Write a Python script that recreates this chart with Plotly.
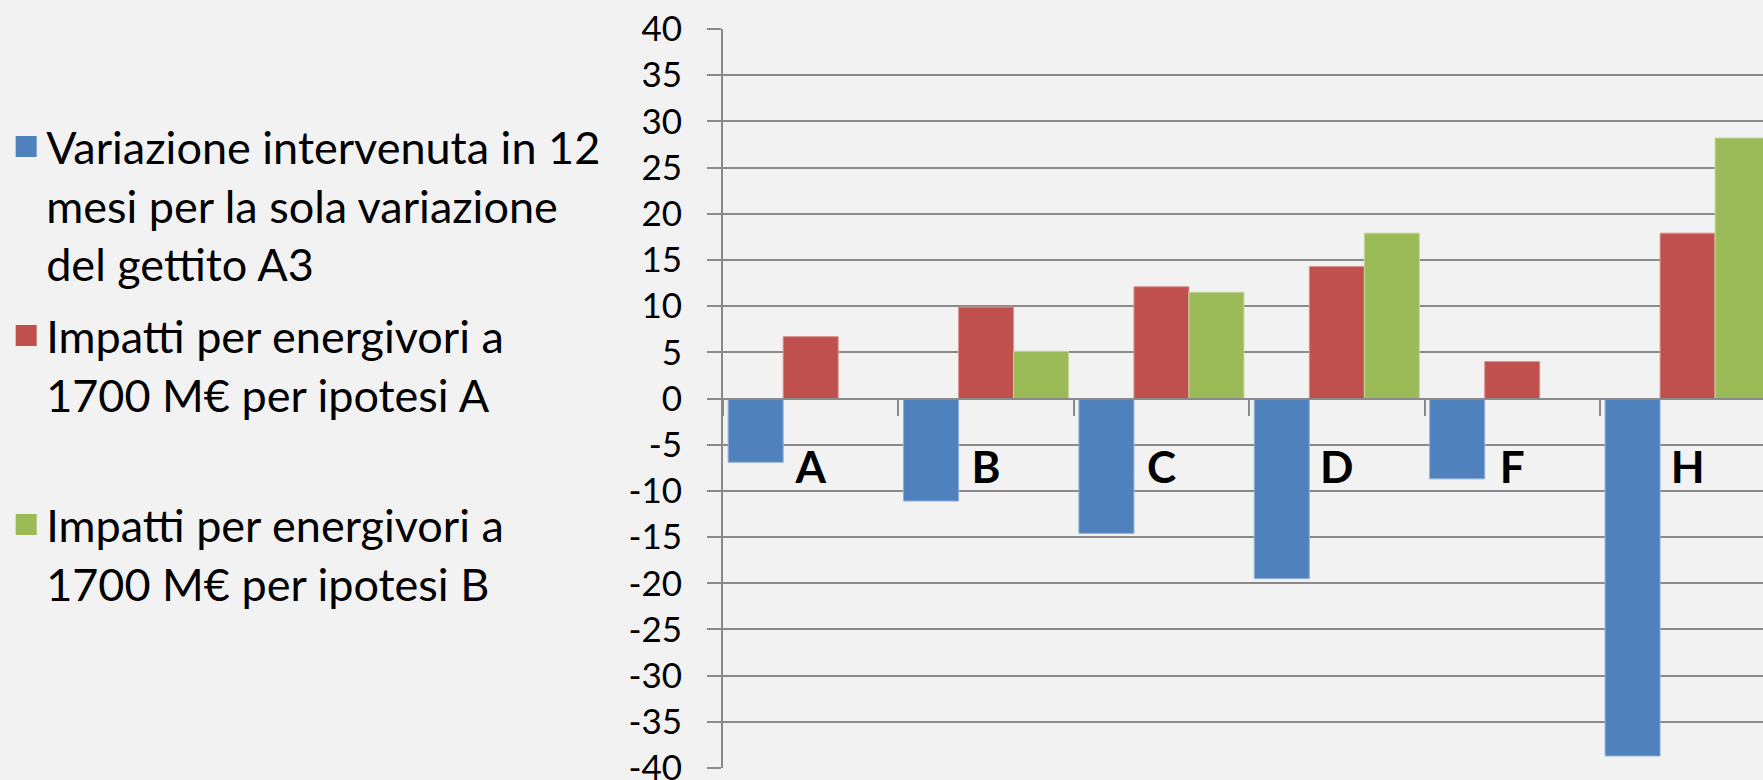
import plotly.graph_objects as go

categories = ["A", "B", "C", "D", "F", "H"]
variazione_a3 = [-6.9, -11.1, -14.6, -19.5, -8.7, -38.7]
impatti_ipotesi_a = [6.7, 9.9, 12.1, 14.3, 4.0, 17.9]
impatti_ipotesi_b = [None, 5.1, 11.5, 17.9, None, 28.2]

series_names = [
    "Variazione intervenuta in 12<br>mesi per la sola variazione<br>del gettito A3",
    "Impatti per energivori a<br>1700 M€ per ipotesi A<br>&nbsp;",
    "Impatti per energivori a<br>1700 M€ per ipotesi B",
]
series_colors = ["#4F81BD", "#C0504D", "#9BBB59"]
series_edges = ["#8FB0DA", "#D99694", "#C3D69B"]

y_tickvals = list(range(-40, 45, 5))
y_ticktext = [str(v) for v in y_tickvals]

grid_color = "#8A8A8A"
bg = "#F2F2F2"

fig = go.Figure()
for i, (name, vals, col, edge) in enumerate(zip(series_names,
                                 [variazione_a3, impatti_ipotesi_a, impatti_ipotesi_b],
                                 series_colors, series_edges)):
    fig.add_trace(go.Bar(
        x=categories, y=vals, name=name, legendgroup=f"g{i}", showlegend=False,
        marker=dict(color=col, line=dict(color=edge, width=1)),
    ))
    # legend swatch (bigger square than the built-in bar icon)
    fig.add_trace(go.Scatter(
        x=[None], y=[None], name=name, legendgroup=f"g{i}", showlegend=True,
        mode="markers", hoverinfo="skip",
        marker=dict(symbol="square", size=16, color=col, line=dict(color=col, width=5)),
    ))

fig.update_layout(
    width=1763, height=780,
    paper_bgcolor=bg, plot_bgcolor=bg,
    barmode="group", bargap=0.059, bargroupgap=0,
    margin=dict(l=723, r=0, t=29, b=12, autoexpand=False),
    font=dict(family="Lato", color="#000000"),
    legend=dict(
        xref="container", yref="container",
        x=0.0035, y=0.858, xanchor="left", yanchor="top",
        font=dict(size=45, family="Lato", color="#000000"),
        valign="top", tracegroupgap=10.5, itemsizing="trace",
        bgcolor="rgba(0,0,0,0)", maxheight=700,
    ),
    showlegend=True,
)
fig.update_yaxes(
    range=[-40, 40], tickvals=y_tickvals, ticktext=y_ticktext,
    automargin=False,
    showgrid=True, gridcolor=grid_color, gridwidth=2,
    zeroline=False,
    showline=True, linecolor=grid_color, linewidth=2,
    ticks="outside", ticklen=14, tickwidth=2, tickcolor=grid_color,
    ticklabelstandoff=18, ticklabeloverflow="allow",
    tickfont=dict(size=35, family="Lato", color="#000000"),
)
fig.update_xaxes(
    type="category", range=[-0.5, 5.43],
    automargin=False,
    anchor="free", position=0.5,
    showgrid=False, zeroline=False,
    showline=True, linecolor=grid_color, linewidth=2,
    ticks="outside", tickson="boundaries", ticklen=16, tickwidth=2, tickcolor=grid_color,
    ticklabelstandoff=31,
    tickfont=dict(size=44, family="Lato", color="#000000", weight="bold"),
)

fig.write_html(
    "out.html",
    config={"displayModeBar": False},
    post_script="document.body.style.margin='0';document.body.style.background='#F2F2F2';",
)
